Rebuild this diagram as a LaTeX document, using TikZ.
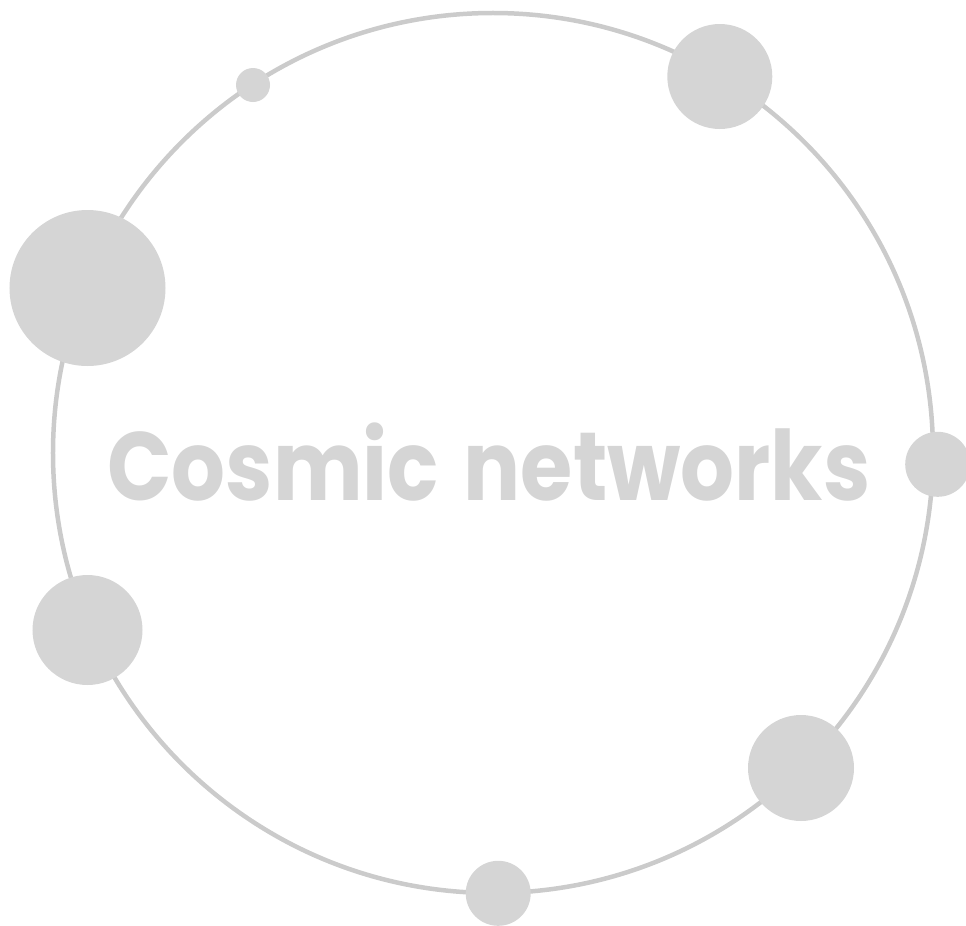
\documentclass[tikz,border=0pt]{standalone}
\usepackage{fontspec}
\usepackage{graphicx}
\newfontfamily\titlefont{Poppins}
\definecolor{dotgray}{HTML}{D5D5D5}
\definecolor{ringgray}{HTML}{CBCBCB}
\begin{document}
\begin{tikzpicture}[x=1bp,y=-1bp,
  dot/.style={circle,fill=dotgray,draw=none,inner sep=0pt},
  ring/.style={circle,draw=ringgray,line width=4.5bp,inner sep=0pt,minimum size=880bp}]
\useasboundingbox (0,0) rectangle (966,926);
\node[ring] (orbit) at (493,453) {};
\node[dot,minimum size=34bp]  (d1) at (253,85) {};
\node[dot,minimum size=105bp] (d2) at (719.8,76.5) {};
\node[dot,minimum size=156bp] (d3) at (87.5,288) {};
\node[dot,minimum size=65bp]  (d4) at (937.7,464.3) {};
\node[dot,minimum size=110bp] (d5) at (87.5,630) {};
\node[dot,minimum size=106bp] (d6) at (801,768) {};
\node[dot,minimum size=65bp]  (d7) at (498.2,893.3) {};
\node[anchor=base,inner sep=0pt,text=dotgray] (title) at (489,500)
  {\scalebox{0.873}[1]{\titlefont\fontsize{97bp}{97bp}\selectfont\bfseries Cosmic\hspace{0.08em} networks}};
\end{tikzpicture}
\end{document}
